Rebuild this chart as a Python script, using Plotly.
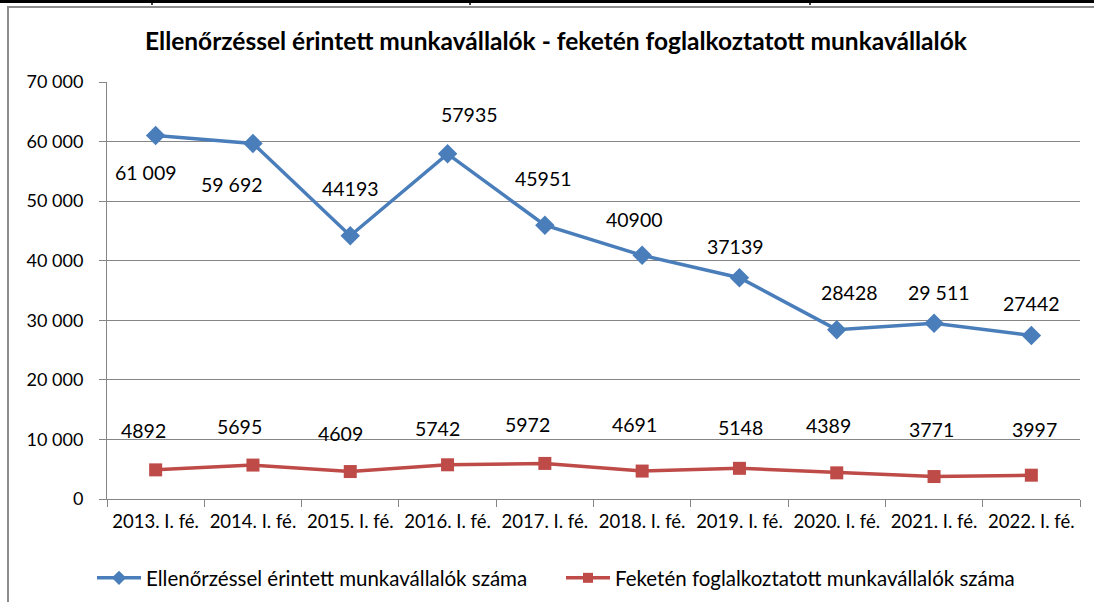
import plotly.graph_objects as go

categories = ["2013. I. fé.", "2014. I. fé.", "2015. I. fé.", "2016. I. fé.", "2017. I. fé.",
              "2018. I. fé.", "2019. I. fé.", "2020. I. fé.", "2021. I. fé.", "2022. I. fé."]
checked = [61009, 59692, 44193, 57935, 45951, 40900, 37139, 28428, 29511, 27442]
checked_labels = ["61 009", "59 692", "44193", "57935", "45951", "40900", "37139", "28428", "29 511", "27442"]
black = [4892, 5695, 4609, 5742, 5972, 4691, 5148, 4389, 3771, 3997]
black_labels = [str(v) for v in black]
yticks = [0, 10000, 20000, 30000, 40000, 50000, 60000, 70000]
ytick_text = ["0", "10 000", "20 000", "30 000", "40 000", "50 000", "60 000", "70 000"]
name_checked = "Ellenőrzéssel érintett munkavállalók száma"
name_black = "Feketén foglalkoztatott munkavállalók száma"

# label placement offsets in pixels (style only: dx right, dy up) as hand-placed in the original
checked_label_dx = [-10, -21, 0, 22, -1, -8, -4, 13, 5, 0]
checked_label_dy = [-37, -41, 47, 39, 47, 36, 31, 37, 31, 32]
black_label_dx = [-12, -13, -10, -10, -17, -8, 1, -8, -3, 3]
black_label_dy = [39, 39, 38, 36, 39, 47, 41, 47, 47, 46]

W, H = 1094, 602
L, R, T, B = 107, 14, 82, 103
pw, ph = W - L - R, H - T - B

FONT = "Lato, Open Sans, Arial"
BLUE = "#4A7EBB"
RED = "#BE4B48"

fig = go.Figure()
fig.add_trace(go.Scatter(
    x=categories, y=checked, mode="lines+markers", name=name_checked, showlegend=False,
    line=dict(color=BLUE, width=3.5),
    marker=dict(symbol="diamond", size=15, color=BLUE),
))
fig.add_trace(go.Scatter(
    x=categories, y=black, mode="lines+markers", name=name_black, showlegend=False,
    line=dict(color=RED, width=3.5),
    marker=dict(symbol="square", size=13, color=RED),
))
# legend entries (smaller symbols as in the reference legend)
fig.add_trace(go.Scatter(
    x=[None], y=[None], mode="lines+markers", name=name_checked,
    line=dict(color=BLUE, width=3.5), marker=dict(symbol="diamond", size=11, color=BLUE),
))
fig.add_trace(go.Scatter(
    x=[None], y=[None], mode="lines+markers", name=name_black,
    line=dict(color=RED, width=3.5), marker=dict(symbol="square", size=10, color=RED),
))

annotations = []
for c, v, t, dx, dy in zip(categories, checked, checked_labels, checked_label_dx, checked_label_dy):
    annotations.append(dict(x=c, y=v, text=t, showarrow=False, xshift=dx, yshift=dy,
                            font=dict(family=FONT, size=19.5, color="#000000")))
for c, v, t, dx, dy in zip(categories, black, black_labels, black_label_dx, black_label_dy):
    annotations.append(dict(x=c, y=v, text=t, showarrow=False, xshift=dx, yshift=dy,
                            font=dict(family=FONT, size=19.5, color="#000000")))


def px_x(x):
    return (x - L) / pw


def px_y(y):
    return (H - B - y) / ph


# title
annotations.append(dict(x=px_x(556), y=px_y(41), xref="paper", yref="paper",
                        xanchor="center", yanchor="middle",
                        text="<b>Ellenőrzéssel érintett munkavállalók - feketén foglalkoztatott munkavállalók</b>",
                        showarrow=False, font=dict(family=FONT, size=24.5, color="#000000")))

shapes = [
    # chart frame
    dict(type="rect", xref="paper", yref="paper", x0=px_x(8), x1=px_x(1100), y0=px_y(7), y1=px_y(640),
         line=dict(color="#8C8C8C", width=2), fillcolor="rgba(0,0,0,0)", layer="below"),
    # top cell border
    dict(type="line", xref="paper", yref="paper", x0=px_x(0), x1=px_x(1094), y0=px_y(1.5), y1=px_y(1.5),
         line=dict(color="#000000", width=3)),
]
for sx in [152, 470, 810]:
    shapes.append(dict(type="line", xref="paper", yref="paper", x0=px_x(sx), x1=px_x(sx),
                       y0=px_y(0), y1=px_y(5), line=dict(color="#000000", width=1.5)))

fig.update_layout(
    width=W, height=H,
    margin=dict(l=L, r=R, t=T, b=B, autoexpand=False),
    paper_bgcolor="white", plot_bgcolor="white",
    showlegend=True,
    legend=dict(orientation="h", x=px_x(92), xanchor="left", y=px_y(578), yanchor="middle",
                font=dict(family=FONT, size=20.5, color="#000000"), itemwidth=44,
                entrywidth=410, entrywidthmode="pixels", tracegroupgap=0),
    annotations=annotations,
    shapes=shapes,
    font=dict(family=FONT, size=17, color="#000000"),
)
fig.update_xaxes(
    type="category", showgrid=False, showline=True, linecolor="#868686", linewidth=1,
    ticks="outside", ticklen=7, tickcolor="#868686", tickson="boundaries",
    tickfont=dict(family=FONT, size=18.5, color="#000000"), range=[-0.5, 9.5],
    ticklabelstandoff=6, automargin=False,
)
fig.update_yaxes(
    range=[0, 70000], tickvals=yticks, ticktext=ytick_text,
    showgrid=True, gridcolor="#868686", gridwidth=1,
    showline=True, linecolor="#868686", linewidth=1,
    ticks="outside", ticklen=7, tickcolor="#868686",
    tickfont=dict(family=FONT, size=18, color="#000000"), zeroline=False,
    ticklabelstandoff=12, automargin=False,
)

fig.write_html("out.html", config={"displayModeBar": False},
               post_script="document.body.style.margin='0';document.body.style.overflow='hidden';")
